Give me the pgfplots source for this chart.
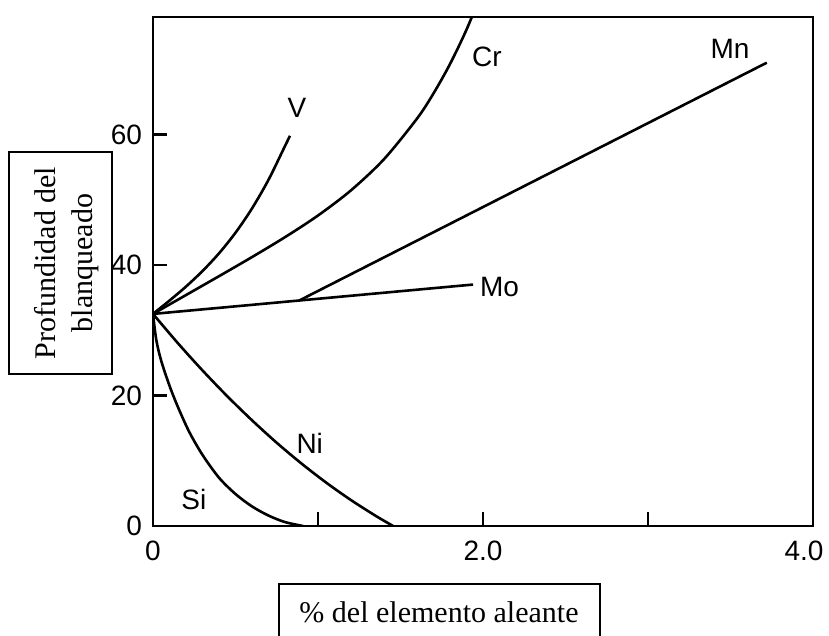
\documentclass[border=0pt]{standalone}
\usepackage{fontspec}
\setmainfont{Liberation Serif}
\newfontfamily\labelsans{Liberation Sans}
\usepackage{pgfplots}
\pgfplotsset{compat=1.18}
\pgfplotsset{curve/.style={line width=1.3pt, black, smooth, mark=none}}

\begin{document}
\begin{tikzpicture}
\begin{axis}[
  at={(0pt,0pt)}, anchor=south west,
  scale only axis, width=330pt, height=254.5pt,
  xmin=0, xmax=4, ymin=0, ymax=78,
  axis line style={line width=1.3pt},
  tick align=inside, tick pos=left,
  major tick length=7pt,
  every tick/.style={line width=1.2pt, black},
  xtick={0,1,2,3,4}, xticklabels={0,,2.0,,{\kern-4.5pt 4.0\kern4.5pt}},
  ytick={0,20,40,60}, yticklabels={0,20,40,60},
  ticklabel style={font=\labelsans\fontsize{14}{16}\selectfont},
  xticklabel style={yshift=-4pt},
  yticklabel style={xshift=-2pt},
]
% V
\addplot[curve] coordinates {(0,32.5) (0.1,34.54) (0.2,36.69) (0.3,39.07) (0.4,41.78) (0.5,44.94) (0.6,48.66) (0.7,53.05) (0.8,58.23) (0.83,59.8)};
% Cr
\addplot[curve] coordinates {(0,32.5) (0.2,35.39) (0.4,38.28) (0.6,41.21) (0.8,44.26) (1.0,47.58) (1.2,51.44) (1.4,56.21) (1.6,62.43) (1.7,66.29) (1.8,70.79) (1.9,76.06) (2.0,82.2)};
% Mo
\addplot[curve, sharp plot] coordinates {(0,32.5) (1.94,37.0)};
% Mn
\addplot[curve, sharp plot] coordinates {(0.89,34.6) (3.72,71.0)};
% Ni
\addplot[curve] coordinates {(0,32.5) (0.15,28.04) (0.3,23.84) (0.45,19.89) (0.6,16.2) (0.75,12.75) (0.9,9.57) (1.05,6.64) (1.2,3.97) (1.35,1.55) (1.455,0)};
% Si
\addplot[curve] coordinates {(0,32.5) (0.02,28.5) (0.05,25.3) (0.1,21.5) (0.15,18.3) (0.22,14.4) (0.3,10.9) (0.4,7.4) (0.5,4.9) (0.6,3.0) (0.7,1.6) (0.8,0.6) (0.91,0)};

\begin{scope}[every node/.style={font=\labelsans\fontsize{14}{16}\selectfont, inner sep=0pt}]
\node at (axis cs:0.873,64.1) {V};
\node at (axis cs:2.024,71.9) {Cr};
\node at (axis cs:3.497,73.1) {Mn};
\node[anchor=west] at (axis cs:1.98,36.6) {Mo};
\node at (axis cs:0.95,12.6) {Ni};
\node at (axis cs:0.248,4.0) {Si};
\end{scope}
\end{axis}

% boxed axis titles (one unit = 0.5pt, origin at the page's lower left corner)
\begin{scope}[x=0.5pt, y=0.5pt, shift={(-76.5pt,-55pt)}]
\draw[line width=0.6pt, fill=white] (9,484) rectangle (112,262);
\node[rotate=90, align=center, font=\fontsize{15}{18.5}\selectfont] at (66.5,373) {Profundidad del\\blanqueado};
\draw[line width=0.6pt, fill=white] (279,-20) rectangle (600,52);
\node[font=\fontsize{15}{18}\selectfont] at (439,24) {\% del elemento aleante};
\end{scope}

% page size
\pgfresetboundingbox
\path (-76.5pt,-55pt) rectangle (338pt,263pt);
\end{tikzpicture}
\end{document}
